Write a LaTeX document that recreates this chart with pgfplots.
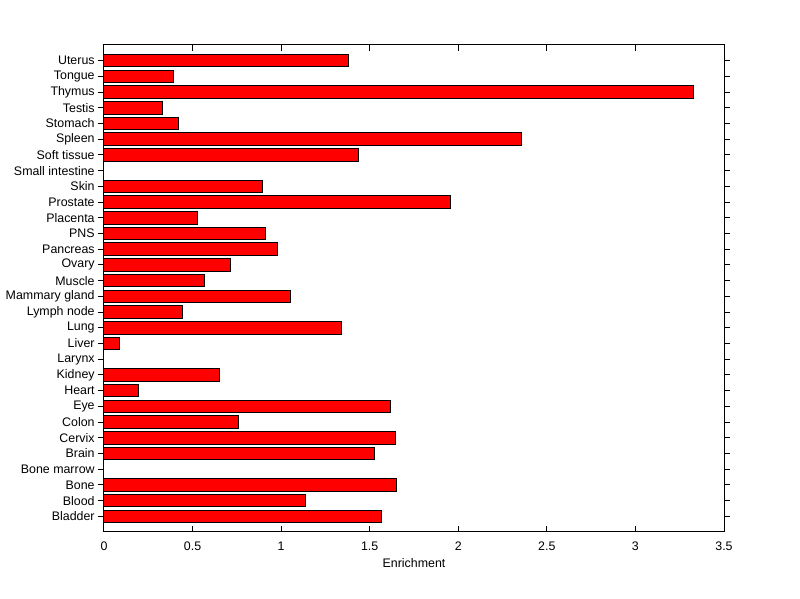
\documentclass[border=0pt]{standalone}
\usepackage{pgfplots}
\pgfplotsset{compat=1.18}
\usepackage{fontspec}
\setmainfont{Liberation Sans}
\pgfplotstableread{
y val
1 1.565
2 1.136
3 1.650
4 0
5 1.525
6 1.648
7 0.757
8 1.616
9 0.192
10 0.650
11 0
12 0.085
13 1.339
14 0.441
15 1.051
16 0.565
17 0.712
18 0.977
19 0.910
20 0.527
21 1.957
22 0.893
23 0
24 1.435
25 2.358
26 0.418
27 0.333
28 3.330
29 0.390
30 1.378
}\datatable
\begin{document}
\begin{tikzpicture}
\begin{axis}[
  scale only axis,
  width=465pt, height=365.25pt,
  xmin=0, xmax=3.5, ymin=0, ymax=31,
  xtick={0,0.5,1,1.5,2,2.5,3,3.5},
  xticklabels={0,0.5,1,1.5,2,2.5,3,3.5},
  ytick={1,...,30},
  yticklabels={Bladder,Blood,Bone,Bone marrow,Brain,Cervix,Colon,Eye,Heart,Kidney,Larynx,Liver,Lung,Lymph node,Mammary gland,Muscle,Ovary,Pancreas,PNS,Placenta,Prostate,Skin,Small intestine,Soft tissue,Spleen,Stomach,Testis,Thymus,Tongue,Uterus},
  tick align=inside,
  major tick length=4.5pt,
  tick style={black, line width=0.75pt},
  axis line style={line width=0.75pt},
  tick label style={font=\fontsize{9.3}{11}\selectfont},
  label style={font=\fontsize{9.3}{11}\selectfont},
  /pgf/number format/assume math mode=true,
  xlabel={Enrichment},
  xlabel style={yshift=1pt},
  xticklabel style={yshift=-4pt},
  yticklabel style={xshift=1pt},
  xbar, bar width=0.8,
]
\addplot[fill=red, draw=black, line width=0.75pt] table[x=val, y=y] {\datatable};
\end{axis}
\path[use as bounding box] ([shift={(-78pt,-50.25pt)}]current axis.south west) rectangle ([shift={(57pt,33.75pt)}]current axis.north east);
\end{tikzpicture}
\end{document}
